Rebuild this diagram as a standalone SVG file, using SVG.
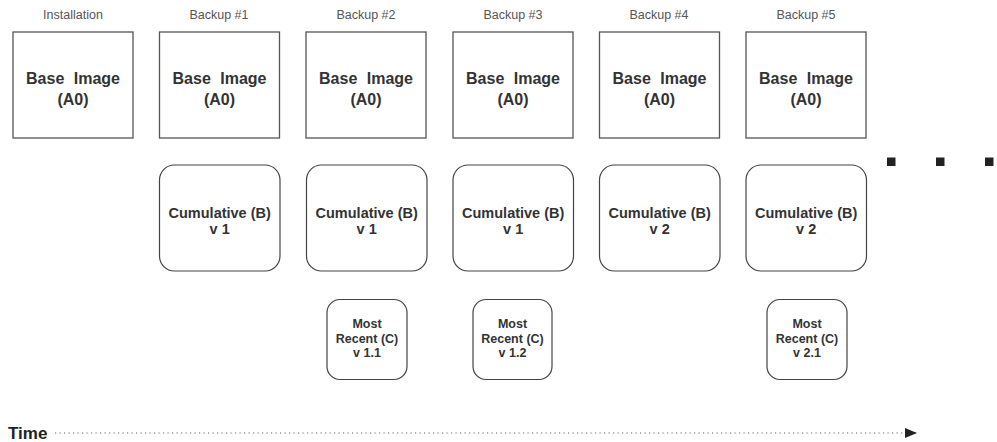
<svg xmlns="http://www.w3.org/2000/svg" width="997" height="442" viewBox="0 0 997 442">
<style>
.hdr{font-family:"Liberation Sans",Arial,sans-serif;font-size:12.5px;fill:#555;text-anchor:middle}
.base{fill:#fff;stroke:#555;stroke-width:1.3}
.baset{font-family:"Liberation Sans",Arial,sans-serif;font-size:16px;font-weight:bold;fill:#333;text-anchor:middle;word-spacing:5px}
.cum{fill:#fff;stroke:#444;stroke-width:1.2}
.cumt{font-family:"Liberation Sans",Arial,sans-serif;font-size:14.5px;font-weight:bold;fill:#333;text-anchor:middle}
.mr{fill:#fff;stroke:#444;stroke-width:1.2}
.mrt{font-family:"Liberation Sans",Arial,sans-serif;font-size:12.5px;font-weight:bold;fill:#333;text-anchor:middle}
.dot{fill:#222}
</style>
<defs>
<marker id="arr" viewBox="0 0 12 10" refX="12" refY="5" markerWidth="12" markerHeight="10" markerUnits="userSpaceOnUse" orient="auto">
<path d="M0,0 L12,5 L0,10 z" fill="#222"/>
</marker>
</defs>
<g id="headers">
<text class="hdr" x="73" y="19">Installation</text>
<text class="hdr" x="219" y="19">Backup #1</text>
<text class="hdr" x="366" y="19">Backup #2</text>
<text class="hdr" x="513" y="19">Backup #3</text>
<text class="hdr" x="659" y="19">Backup #4</text>
<text class="hdr" x="806" y="19">Backup #5</text>
</g>
<g id="base0"><rect class="base" x="13" y="32" width="120" height="106"/><text class="baset" x="73" y="84">Base Image</text><text class="baset" x="73" y="105">(A0)</text></g>
<g id="base1"><rect class="base" x="159.5" y="32" width="120" height="106"/><text class="baset" x="219.5" y="84">Base Image</text><text class="baset" x="219.5" y="105">(A0)</text></g>
<g id="base2"><rect class="base" x="306" y="32" width="120" height="106"/><text class="baset" x="366" y="84">Base Image</text><text class="baset" x="366" y="105">(A0)</text></g>
<g id="base3"><rect class="base" x="453" y="32" width="120" height="106"/><text class="baset" x="513" y="84">Base Image</text><text class="baset" x="513" y="105">(A0)</text></g>
<g id="base4"><rect class="base" x="599.5" y="32" width="120" height="106"/><text class="baset" x="659.5" y="84">Base Image</text><text class="baset" x="659.5" y="105">(A0)</text></g>
<g id="base5"><rect class="base" x="746" y="32" width="120" height="106"/><text class="baset" x="806" y="84">Base Image</text><text class="baset" x="806" y="105">(A0)</text></g>
<g id="cum1"><rect class="cum" x="159.5" y="165" width="120.5" height="106" rx="15"/><text class="cumt" x="219.7" y="218">Cumulative (B)</text><text class="cumt" x="219.7" y="234">v 1</text></g>
<g id="cum2"><rect class="cum" x="306.5" y="165" width="120.5" height="106" rx="15"/><text class="cumt" x="366.7" y="218">Cumulative (B)</text><text class="cumt" x="366.7" y="234">v 1</text></g>
<g id="cum3"><rect class="cum" x="453" y="165" width="120.5" height="106" rx="15"/><text class="cumt" x="513.2" y="218">Cumulative (B)</text><text class="cumt" x="513.2" y="234">v 1</text></g>
<g id="cum4"><rect class="cum" x="599.5" y="165" width="120.5" height="106" rx="15"/><text class="cumt" x="659.7" y="218">Cumulative (B)</text><text class="cumt" x="659.7" y="234">v 2</text></g>
<g id="cum5"><rect class="cum" x="746" y="165" width="120.5" height="106" rx="15"/><text class="cumt" x="806.2" y="218">Cumulative (B)</text><text class="cumt" x="806.2" y="234">v 2</text></g>
<g id="mr2"><rect class="mr" x="327" y="299.5" width="80" height="80" rx="13"/><text class="mrt" x="367" y="328">Most</text><text class="mrt" x="367" y="343">Recent (C)</text><text class="mrt" x="367" y="357">v 1.1</text></g>
<g id="mr3"><rect class="mr" x="473" y="299.5" width="79" height="80" rx="13"/><text class="mrt" x="512.5" y="328">Most</text><text class="mrt" x="512.5" y="343">Recent (C)</text><text class="mrt" x="512.5" y="357">v 1.2</text></g>
<g id="mr5"><rect class="mr" x="767" y="299.5" width="80" height="80" rx="13"/><text class="mrt" x="807" y="328">Most</text><text class="mrt" x="807" y="343">Recent (C)</text><text class="mrt" x="807" y="357">v 2.1</text></g>
<g id="ellipsis">
<rect class="dot" x="887" y="157.5" width="8.5" height="8.5"/>
<rect class="dot" x="936" y="157.5" width="8.5" height="8.5"/>
<rect class="dot" x="985" y="157.5" width="8.5" height="8.5"/>
</g>
<g id="time">
<text x="8" y="438.5" font-family="Liberation Sans,Arial,sans-serif" font-size="17" font-weight="bold" fill="#222">Time</text>
</g>
<g id="connectors">
<line x1="55" y1="433" x2="917" y2="433" stroke="#666" stroke-width="1" stroke-dasharray="1.2,3.3" marker-end="url(#arr)"/>
</g>
</svg>
